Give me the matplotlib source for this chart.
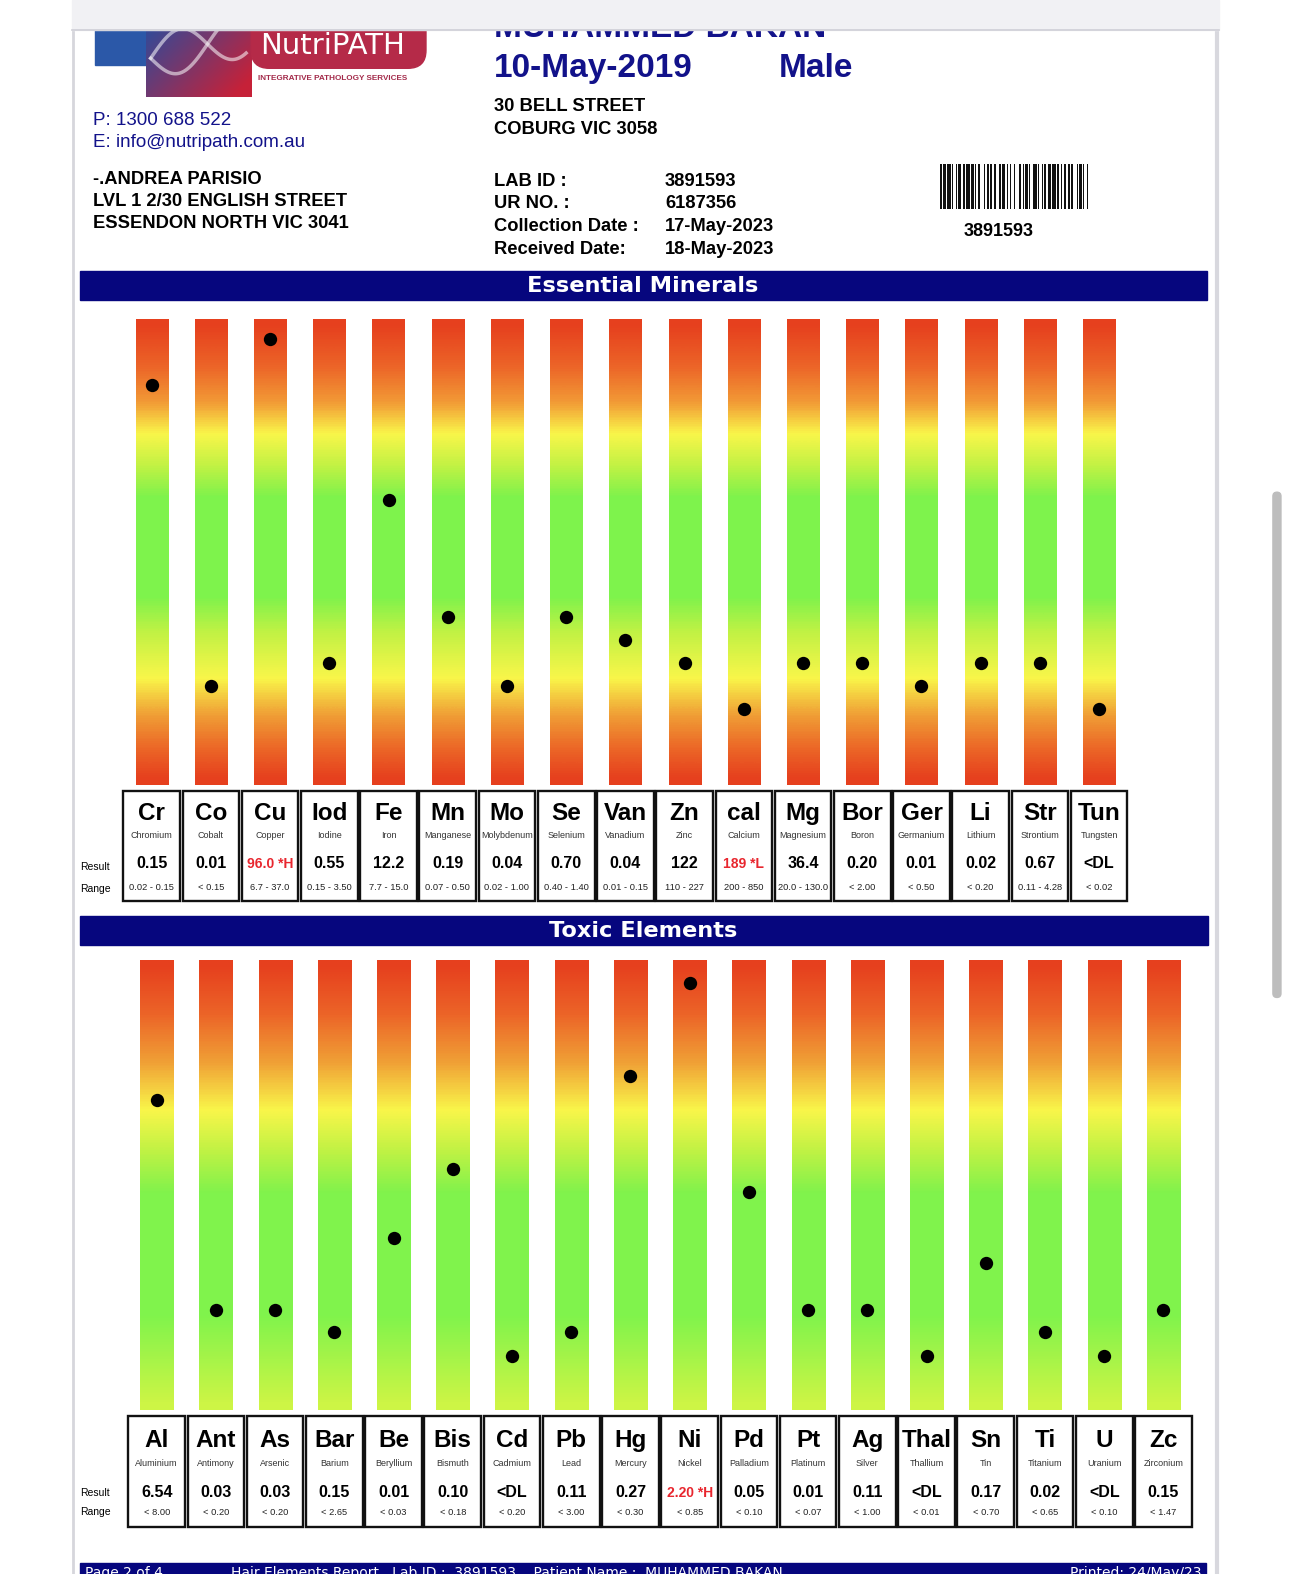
import numpy as np
import matplotlib
matplotlib.use("Agg")
import matplotlib.pyplot as plt
from matplotlib.patches import Rectangle, FancyBboxPatch
from matplotlib.colors import LinearSegmentedColormap

# ---------------- data ----------------
ess_symbols = ["Cr", "Co", "Cu", "Iod", "Fe", "Mn", "Mo", "Se", "Van", "Zn", "cal", "Mg",
               "Bor", "Ger", "Li", "Str", "Tun"]
ess_names = ["Chromium", "Cobalt", "Copper", "Iodine", "Iron", "Manganese", "Molybdenum",
             "Selenium", "Vanadium", "Zinc", "Calcium", "Magnesium", "Boron", "Germanium",
             "Lithium", "Strontium", "Tungsten"]
ess_results = ["0.15", "0.01", "96.0 *H", "0.55", "12.2", "0.19", "0.04", "0.70", "0.04",
               "122", "189 *L", "36.4", "0.20", "0.01", "0.02", "0.67", "<DL"]
ess_ranges = ["0.02 - 0.15", "< 0.15", "6.7 - 37.0", "0.15 - 3.50", "7.7 - 15.0",
              "0.07 - 0.50", "0.02 - 1.00", "0.40 - 1.40", "0.01 - 0.15", "110 - 227",
              "200 - 850", "20.0 - 130.0", "< 2.00", "< 0.50", "< 0.20", "0.11 - 4.28", "< 0.02"]
# marker position on each gauge (0 = bottom, 1 = top)
ess_levels = [0.86, 0.213, 0.959, 0.263, 0.612, 0.362, 0.213, 0.362, 0.3125, 0.263,
              0.164, 0.263, 0.263, 0.213, 0.263, 0.263, 0.164]

tox_symbols = ["Al", "Ant", "As", "Bar", "Be", "Bis", "Cd", "Pb", "Hg", "Ni", "Pd", "Pt",
               "Ag", "Thal", "Sn", "Ti", "U", "Zc"]
tox_names = ["Aluminium", "Antimony", "Arsenic", "Barium", "Beryllium", "Bismuth", "Cadmium",
             "Lead", "Mercury", "Nickel", "Palladium", "Platinum", "Silver", "Thallium", "Tin",
             "Titanium", "Uranium", "Zirconium"]
tox_results = ["6.54", "0.03", "0.03", "0.15", "0.01", "0.10", "<DL", "0.11", "0.27",
               "2.20 *H", "0.05", "0.01", "0.11", "<DL", "0.17", "0.02", "<DL", "0.15"]
tox_ranges = ["< 8.00", "< 0.20", "< 0.20", "< 2.65", "< 0.03", "< 0.18", "< 0.20", "< 3.00",
              "< 0.30", "< 0.85", "< 0.10", "< 0.07", "< 1.00", "< 0.01", "< 0.70", "< 0.65",
              "< 0.10", "< 1.47"]
tox_levels = [0.69, 0.223, 0.223, 0.174, 0.382, 0.536, 0.12, 0.174, 0.743, 0.949, 0.484,
              0.223, 0.223, 0.12, 0.328, 0.174, 0.12, 0.223]

# ---------------- figure ----------------
FW, FH = 1290, 1574          # output pixels
W, H = 1284, 1567            # layout coordinate frame
NAVY = "#06067e"
TXT_NAVY = "#12128a"
SANS = ["Liberation Sans", "DejaVu Sans"]
VERD = ["DejaVu Sans"]

fig = plt.figure(figsize=(FW / 100, FH / 100), dpi=100)
bg = fig.add_axes([0, 0, 1, 1])
bg.set_xlim(0, W)
bg.set_ylim(H, 0)
bg.axis("off")


def px_axes(x0, y0, x1, y1):
    return fig.add_axes([x0 / W, 1 - y1 / H, (x1 - x0) / W, (y1 - y0) / H])


def T(x, y, s, size, weight="normal", color="black", ha="left", va="baseline", family=SANS, z=3):
    bg.text(x, y, s, fontsize=size, fontweight=weight, color=color, ha=ha, va=va,
            family=family, zorder=z)


# page frame
bg.plot([73, 73], [30, H], color="#d6d6dc", lw=2, zorder=1)
bg.plot([1211, 1211], [30, H], color="#d8d8de", lw=3, zorder=1)
bg.add_patch(Rectangle((72, 0), 1141, 30, color="#f1f1f4", zorder=10))
bg.plot([72, 1213], [30, 30], color="#cfcfd6", lw=1.2, zorder=11)
bg.add_patch(FancyBboxPatch((1267, 490), 8, 503, boxstyle="round,pad=0,rounding_size=4",
                            color="#bdbdbd", zorder=2))

# ---------------- logo ----------------
bg.add_patch(Rectangle((95, 20), 50, 45, color="#2b58a8", zorder=2))
gx = np.linspace(0, 1, 60)
gy = np.linspace(0, 1, 40)
GX, GY = np.meshgrid(gx, gy)
t = np.clip(0.65 * GX + 0.45 * GY, 0, 1)[..., None]
c1 = np.array([0.16, 0.30, 0.62])
c2 = np.array([0.78, 0.13, 0.22])
img = (1 - t) * c1 + t * c2
bg.imshow(img, extent=(145, 250, 97, 20), aspect="auto", zorder=2, interpolation="bilinear")
xs = np.linspace(150, 245, 120)
for ph in (0.0, np.pi):
    bg.plot(xs, 58 + 22 * np.sin((xs - 150) / 18 + ph) - (xs - 150) * 0.25,
            color="white", alpha=0.55, lw=2.5, zorder=3)
bg.add_patch(FancyBboxPatch((250, 12), 174, 56, boxstyle="round,pad=0,rounding_size=18",
                            color="#b52a48", zorder=2))
T(331, 46, "NutriPATH", 21, color="white", ha="center", va="center", family=VERD)
T(331, 78, "INTEGRATIVE PATHOLOGY SERVICES", 5.9, weight="bold", color="#a32a4a",
  ha="center", va="center")

T(93, 124, "P: 1300 688 522", 13.5, color=TXT_NAVY)
T(93, 146, "E: info@nutripath.com.au", 13.5, color=TXT_NAVY)
T(93, 183, "-.ANDREA PARISIO", 13.2, weight="bold")
T(93, 205, "LVL 1 2/30 ENGLISH STREET", 13.2, weight="bold")
T(93, 227, "ESSENDON NORTH VIC 3041", 13.2, weight="bold")

T(492, 37, "MUHAMMED BAKAN", 24, weight="bold", color=TXT_NAVY, z=3)
T(492, 77, "10-May-2019", 24, weight="bold", color=TXT_NAVY)
T(775, 77, "Male", 24, weight="bold", color=TXT_NAVY)
T(492, 111, "30 BELL STREET", 13.2, weight="bold")
T(492, 133, "COBURG VIC 3058", 13.2, weight="bold")
for yy, lab, val in [(185, "LAB ID :", "3891593"), (207, "UR NO. :", "6187356"),
                     (230, "Collection Date :", "17-May-2023"),
                     (253, "Received Date:", "18-May-2023")]:
    T(492, yy, lab, 13.2, weight="bold")
    T(662, yy, val, 13.2, weight="bold")

# barcode (decorative pattern)
bar_pattern = [1, 1, 2, 1, 3, 1, 1, 2, 1, 1, 2, 2, 1, 1, 3, 1, 2, 1, 1, 1, 2, 3, 1, 1, 2, 1,
               1, 2, 1, 3, 1, 1, 2, 2, 1, 1, 1, 2, 1, 3, 2, 1, 1, 1, 2, 1, 1, 2, 3, 1, 1, 2,
               1, 1, 1, 2, 2, 1, 3, 1, 1, 2, 1, 1, 2, 1, 2, 1, 1, 3, 1, 1, 2, 1, 1, 2, 1]
unit = 147.0 / sum(bar_pattern)
xb = 936.0
for k, wdt in enumerate(bar_pattern):
    if k % 2 == 0:
        bg.add_patch(Rectangle((xb, 163), wdt * unit, 45, color="#111111", lw=0, zorder=2))
    xb += wdt * unit
T(994, 235, "3891593", 13, weight="bold", ha="center")

# ---------------- section bands ----------------
bg.add_patch(Rectangle((80, 270), 1121, 29, color=NAVY, zorder=2))
T(640, 285, "Essential Minerals", 16.2, weight="bold", color="white", ha="center",
  va="center", family=VERD)
bg.add_patch(Rectangle((80, 912), 1122, 29, color=NAVY, zorder=2))
T(640, 927, "Toxic Elements", 16.2, weight="bold", color="white", ha="center",
  va="center", family=VERD)

# footer (cut by the page edge, as in the screenshot)
bg.add_patch(Rectangle((80, 1556), 1120, 20, color=NAVY, zorder=2))
T(85, 1570, "Page 2 of 4", 10, color="white", family=VERD)
T(230, 1570, "Hair Elements Report   Lab ID :  3891593    Patient Name :  MUHAMMED BAKAN", 10,
  color="white", family=VERD)
T(1196, 1570, "Printed: 24/May/23", 10, color="white", ha="right", family=VERD)

# ---------------- gauges ----------------
ess_cmap = LinearSegmentedColormap.from_list("ess", [
    (0.00, "#e6401e"), (0.09, "#ec6428"), (0.17, "#f29a36"), (0.24, "#f9f64a"),
    (0.31, "#c2f244"), (0.38, "#7ef34c"), (0.60, "#7ef34c"), (0.68, "#c2f244"),
    (0.78, "#f9f64a"), (0.86, "#f0a036"), (0.93, "#ec6a28"), (1.00, "#e6401e")])
tox_cmap = LinearSegmentedColormap.from_list("tox", [
    (0.00, "#e6401e"), (0.11, "#ec6428"), (0.22, "#f0a036"), (0.33, "#f9f64a"),
    (0.42, "#c2f244"), (0.52, "#80f34c"), (0.80, "#80f34c"), (1.00, "#cdf545")])


def gauges(y0, y1, first_c, pitch, bar_px, levels, cmap):
    n = len(levels)
    ax = px_axes(0, y0, W, y1)
    idx = np.arange(n)
    grad = np.linspace(0, 1, 36)[:, None]
    w = bar_px / pitch
    for i in idx:
        ax.imshow(grad, extent=(i - w / 2, i + w / 2, 0, 1), origin="upper", aspect="auto",
                  cmap=cmap, vmin=0, vmax=1, interpolation="bilinear", zorder=1)
    ax.scatter(idx, levels, s=92, color="black", zorder=5, linewidths=0)
    ax.set_xlim((0 - first_c) / pitch, (W - first_c) / pitch)
    ax.set_ylim(0, 1)
    ax.axis("off")


ess_pitch = (1094 - 151) / 16
tox_pitch = (1158 - 156) / 17
gauges(318, 782, 151, ess_pitch, 32, ess_levels, ess_cmap)
gauges(956, 1404, 156, tox_pitch, 33, tox_levels, tox_cmap)


# ---------------- tables ----------------
def table(first_c, pitch, y0, y1, symbols, names, results, ranges, ys, lab_ys):
    for i, (s, nm, r, rg) in enumerate(zip(symbols, names, results, ranges)):
        c = first_c + pitch * i
        bg.add_patch(Rectangle((c - 28.2, y0), 56.4, y1 - y0, fill=False, lw=1.7,
                               ec="#111111", zorder=2))
        T(c, ys[0], s, 17.5, weight="bold", ha="center", va="center")
        T(c, ys[1], nm, 6.5, ha="center", va="center", color="#333333")
        red = "*" in r
        T(c, ys[2], r, 11.5 if not red else 10, weight="bold", ha="center", va="center",
          color="#e8262e" if red else "black")
        T(c, ys[3], rg, 6.7, ha="center", va="center", color="#222222")
    T(80, lab_ys[0], "Result", 7.5, va="center")
    T(80, lab_ys[1], "Range", 7.5, va="center")


table(151, ess_pitch, 787, 897, ess_symbols, ess_names, ess_results, ess_ranges,
      (810, 832, 860, 884), (863, 885))
table(156, tox_pitch, 1410, 1520, tox_symbols, tox_names, tox_results, tox_ranges,
      (1434, 1457, 1486, 1506), (1486, 1505))

fig.savefig("out.png", dpi=100)
